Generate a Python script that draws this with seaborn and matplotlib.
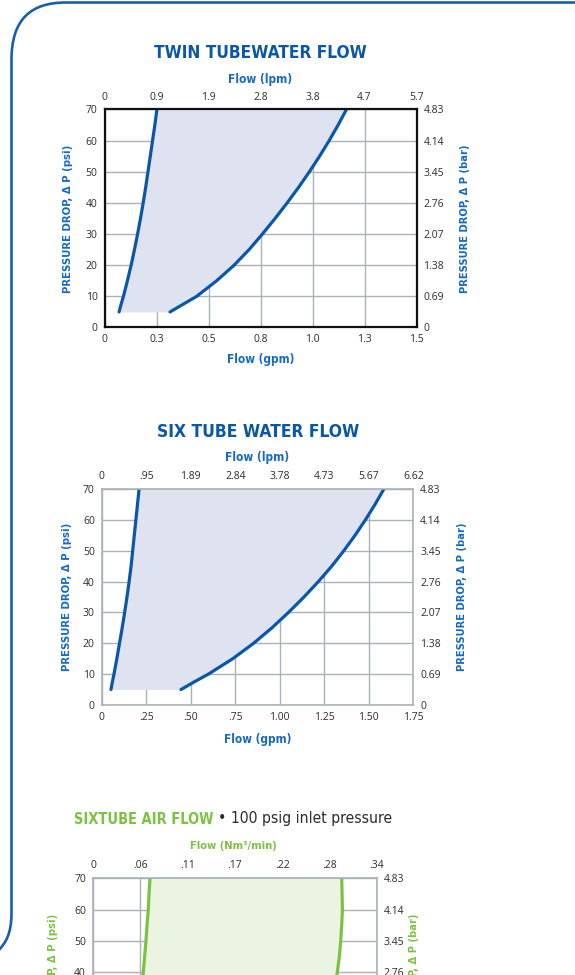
import matplotlib
matplotlib.use('Agg')
import matplotlib.pyplot as plt
from matplotlib import font_manager
from matplotlib.font_manager import FontProperties
from matplotlib.path import Path
from matplotlib.patches import PathPatch
from matplotlib.transforms import Affine2D
import seaborn as sns

# --- data ---
psi_levels = [5, 7.5, 10, 15, 20, 25, 30, 35, 40, 45, 50, 55, 60, 65, 70]

twin_low_gpm = [0.070, 0.080, 0.091, 0.110, 0.128, 0.144, 0.159, 0.173, 0.186, 0.198, 0.209, 0.220, 0.231, 0.242, 0.252]
twin_high_gpm = [0.315, 0.379, 0.443, 0.539, 0.623, 0.695, 0.759, 0.820, 0.878, 0.933, 0.985, 1.034, 1.080, 1.123, 1.163]

six_low_gpm = [0.052, 0.060, 0.069, 0.085, 0.100, 0.115, 0.129, 0.142, 0.154, 0.165, 0.174, 0.183, 0.192, 0.201, 0.210]
six_high_gpm = [0.445, 0.520, 0.599, 0.736, 0.853, 0.956, 1.049, 1.136, 1.217, 1.292, 1.360, 1.423, 1.481, 1.535, 1.585]

air_psi = [35, 40, 45, 50, 55, 60, 65, 70]
air_low_nm3 = [0.0583, 0.0603, 0.0619, 0.0635, 0.0647, 0.0663, 0.0671, 0.0683]
air_high_nm3 = [0.2893, 0.2929, 0.2953, 0.2969, 0.2981, 0.2989, 0.2985, 0.2981]

psi_ticks = [0, 10, 20, 30, 40, 50, 60, 70]
bar_labels = ['0', '0.69', '1.38', '2.07', '2.76', '3.45', '4.14', '4.83']

twin_gpm_ticks = [0, 0.25, 0.5, 0.75, 1.0, 1.25, 1.5]
twin_gpm_labels = ['0', '0.3', '0.5', '0.8', '1.0', '1.3', '1.5']
twin_lpm_labels = ['0', '0.9', '1.9', '2.8', '3.8', '4.7', '5.7']

six_gpm_ticks = [0, 0.25, 0.5, 0.75, 1.0, 1.25, 1.5, 1.75]
six_gpm_labels = ['0', '.25', '.50', '.75', '1.00', '1.25', '1.50', '1.75']
six_lpm_labels = ['0', '.95', '1.89', '2.84', '3.78', '4.73', '5.67', '6.62']

air_nm3_ticks = [0, 0.34 / 6, 0.34 * 2 / 6, 0.34 * 3 / 6, 0.34 * 4 / 6, 0.34 * 5 / 6, 0.34]
air_nm3_labels = ['0', '.06', '.11', '.17', '.22', '.28', '.34']

BLUE = '#0b57a5'
BLUE_LABEL = '#1769c0'
FILL_BLUE = '#dfe3f1'
GREEN = '#7cc242'
FILL_GREEN = '#eaf4e1'
GRID = '#a9b1b9'
TXT = '#2b2b2b'

W, H = 575, 975
WIDEN = 1.22   # the installed faces are wider than the original's condensed type

sns.set_style('white')
names = {f.name for f in font_manager.fontManager.ttflist}
TICKFONT = 'Open Sans' if 'Open Sans' in names else 'DejaVu Sans'
plt.rcParams['font.family'] = [TICKFONT, 'DejaVu Sans']


def narrow_font(bold):
    # look for any condensed / narrow face, else fall back to Roboto
    for f in font_manager.fontManager.ttflist:
        low = f.fname.lower()
        if ('condensed' in low or 'narrow' in low) and not ('italic' in low or 'oblique' in low):
            is_bold = f.weight in ('bold', 700, 'heavy') or 'bold' in low
            if is_bold == bold:
                return FontProperties(fname=f.fname)
    fam = 'Roboto' if 'Roboto' in names else 'DejaVu Sans'
    return FontProperties(family=fam, weight='bold' if bold else 'normal')


COND_B = narrow_font(True)
COND_R = narrow_font(False)

fig = plt.figure(figsize=(W / 100, H / 100), dpi=100)
renderer = fig.canvas.get_renderer()


def px(x, y):
    return x / W, 1 - y / H


def fit(t, target, vertical=False, max_size=None):
    # resize a text so that its length comes near the reference
    bb = t.get_window_extent(renderer=renderer)
    cur = bb.height if vertical else bb.width
    size = t.get_fontsize() * target / cur
    if max_size is not None:
        size = min(size, max_size)
    t.set_fontsize(size)
    return t


def label(x, y, s, color, target, fp, rotation=0, max_size=None, ha='center', widen=WIDEN):
    t = fig.text(*px(x, y), s, ha=ha, va='center', color=color, rotation=rotation,
                 fontproperties=fp.copy())
    t.set_fontsize(10)
    return fit(t, target * widen, vertical=rotation == 90, max_size=max_size)


def place(l, t, r, b):
    return fig.add_axes([l / W, 1 - b / H, (r - l) / W, (b - t) / H])


def setup(ax, xmax, xticks, bottom_labels, top_labels, edge):
    ax.set_xlim(0, xmax)
    ax.set_ylim(0, 70)
    ax.set_xticks(xticks)
    ax.set_xticklabels(bottom_labels)
    ax.set_yticks(psi_ticks)
    ax.set_yticklabels([str(v) for v in psi_ticks])
    ax.grid(True, color=GRID, linewidth=1.0)
    ax.set_axisbelow(True)
    ax.tick_params(length=0, pad=5, labelsize=7.5, colors=TXT)
    ax.set_xlabel('')
    ax.set_ylabel('')
    for s in ax.spines.values():
        s.set_visible(True)
        s.set_color(edge[0])
        s.set_linewidth(edge[1])
        s.set_zorder(5)
    top = ax.secondary_xaxis('top')
    top.set_xticks(xticks, labels=top_labels)
    top.tick_params(length=0, pad=5, labelsize=7.5, colors=TXT)
    top.spines['top'].set_visible(False)
    right = ax.secondary_yaxis('right')
    right.set_yticks(psi_ticks, labels=bar_labels)
    right.tick_params(length=0, pad=5, labelsize=7.5, colors=TXT)
    right.spines['right'].set_visible(False)


def curves(ax, psi, low, high, color, fill):
    ax.fill_betweenx(psi, low, high, color=fill, linewidth=0, zorder=1)
    sns.lineplot(x=low, y=psi, sort=False, estimator=None, color=color, linewidth=2.3, ax=ax, zorder=3)
    sns.lineplot(x=high, y=psi, sort=False, estimator=None, color=color, linewidth=2.3, ax=ax, zorder=3)


def ylabels(xl, xr, yc, color):
    label(xl, yc, 'PRESSURE DROP, \u0394 P (psi)', color, 132, COND_B, rotation=90, max_size=8.5, widen=1.12)
    label(xr, yc, 'PRESSURE DROP, \u0394 P (bar)', color, 133, COND_B, rotation=90, max_size=8.5, widen=1.12)


# --- chart 1: twin tube water flow ---
ax1 = place(104.5, 109.5, 416.5, 327.5)
curves(ax1, psi_levels, twin_low_gpm, twin_high_gpm, BLUE, FILL_BLUE)
setup(ax1, 1.5, twin_gpm_ticks, twin_gpm_labels, twin_lpm_labels, ('#111111', 1.6))
label(260.5, 52.5, 'TWIN TUBEWATER FLOW', BLUE, 174, COND_B, max_size=15)
label(260.5, 79, 'Flow (lpm)', BLUE_LABEL, 52, COND_B, max_size=9.5)
label(260.5, 360, 'Flow (gpm)', BLUE_LABEL, 55, COND_B, max_size=9.5)
ylabels(68, 465, 218.5, BLUE_LABEL)

# --- chart 2: six tube water flow ---
ax2 = place(101.7, 489, 413.3, 705)
curves(ax2, psi_levels, six_low_gpm, six_high_gpm, BLUE, FILL_BLUE)
setup(ax2, 1.75, six_gpm_ticks, six_gpm_labels, six_lpm_labels, (GRID, 1.2))
label(257.8, 432, 'SIX TUBE WATER FLOW', BLUE, 166, COND_B, max_size=15)
label(257.5, 458, 'Flow (lpm)', BLUE_LABEL, 52, COND_B, max_size=9.5)
label(257.5, 739, 'Flow (gpm)', BLUE_LABEL, 55, COND_B, max_size=9.5)
ylabels(66.5, 462, 597, BLUE_LABEL)

# --- chart 3: six tube air flow (cut off by the page) ---
ax3 = place(93, 878.3, 376.7, 1096.7)
curves(ax3, air_psi, air_low_nm3, air_high_nm3, GREEN, FILL_GREEN)
setup(ax3, 0.34, air_nm3_ticks, ['' for _ in air_nm3_ticks], air_nm3_labels, (GRID, 1.2))
t_green = label(0, 819, 'SIXTUBE AIR FLOW', GREEN, 126, COND_B, max_size=14, ha='left', widen=1.1)
t_grey = label(0, 819, '\u2022 100 psig inlet pressure', TXT, 161, COND_R, max_size=14.5, ha='left', widen=1.08)
w_green = t_green.get_window_extent(renderer=renderer).width
w_grey = t_grey.get_window_extent(renderer=renderer).width
x_start = 233 - (w_green + 5 + w_grey) / 2
t_green.set_x(x_start / W)
t_grey.set_x((x_start + w_green + 5) / W)
label(233, 846, 'Flow (Nm\u00b3/min)', GREEN, 71, COND_B, max_size=9.5)
ylabels(53.5, 414, 987.5, GREEN)

# --- rounded page frame ---
verts = [(-1, 950), (5, 943), (11.5, 935), (11.5, 913), (11.5, 60),
         (11.5, 20), (30, 2.5), (66, 2.5), (580, 2.5)]
codes = [Path.MOVETO, Path.CURVE4, Path.CURVE4, Path.CURVE4, Path.LINETO,
         Path.CURVE4, Path.CURVE4, Path.CURVE4, Path.LINETO]
to_fig = Affine2D().scale(1 / W, -1 / H).translate(0, 1) + fig.transFigure
fig.patches.append(PathPatch(Path(verts, codes), transform=to_fig, fill=False,
                             edgecolor='#1a5eab', linewidth=1.9))

fig.savefig('out.png', dpi=100)
